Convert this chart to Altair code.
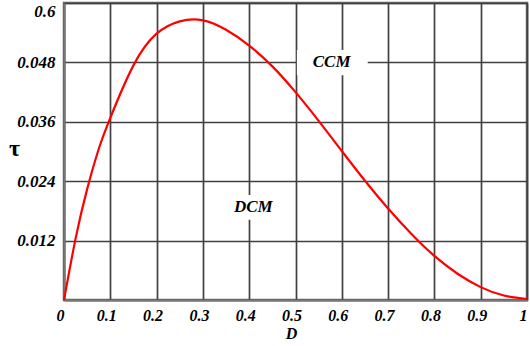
import altair as alt
import pandas as pd

# Curve
D_vals = [0, 0.025, 0.05, 0.075, 0.1, 0.15, 0.2, 0.25, 0.3, 0.35, 0.4, 0.45, 0.5,
          0.55, 0.6, 0.65, 0.7, 0.75, 0.8, 0.85, 0.9, 0.95, 1.0]
tau_vals = [0, 0.0124, 0.0224, 0.0305, 0.0368, 0.0474, 0.0538, 0.0563, 0.0565, 0.0546, 0.0514,
            0.0472, 0.0420, 0.0362, 0.0301, 0.0241, 0.0185, 0.0134, 0.0089, 0.0053, 0.0026,
            0.0009, 0.0002]

x_ticks = [0, 0.1, 0.2, 0.3, 0.4, 0.5, 0.6, 0.7, 0.8, 0.9, 1.0]
x_labels = ["0", "0.1", "0.2", "0.3", "0.4", "0.5", "0.6", "0.7", "0.8", "0.9", "1"]
y_ticks = [0, 0.012, 0.024, 0.036, 0.048, 0.06]
y_labels = ["", "0.012", "0.024", "0.036", "0.048", "0.6"]

# Region annotations
ann_text = ["CCM", "DCM"]
ann_D = [0.578, 0.409]
ann_tau = [0.048, 0.0187]
ann_box_D1 = [0.503, 0.335]
ann_box_D2 = [0.656, 0.485]
ann_box_t1 = [0.0454, 0.0162]
ann_box_t2 = [0.0505, 0.0212]

FONT = "Liberation Serif"


def label_expr(ticks, labels):
    expr = "''"
    for v, l in reversed(list(zip(ticks, labels))):
        expr = f"abs(datum.value - {v}) < 1e-6 ? '{l}' : ({expr})"
    return expr


curve = pd.DataFrame({"D": D_vals, "tau": tau_vals})
ann = pd.DataFrame({"text": ann_text, "D": ann_D, "tau": ann_tau,
                    "bx1": ann_box_D1, "bx2": ann_box_D2,
                    "by1": ann_box_t1, "by2": ann_box_t2})

x_scale = alt.Scale(domain=[0, 1], nice=False, zero=False)
y_scale = alt.Scale(domain=[0, 0.06], nice=False, zero=False)

x_axis = alt.Axis(values=x_ticks, labelExpr=label_expr(x_ticks, x_labels),
                  grid=True, gridColor="#404040", gridWidth=1.7,
                  domain=True, domainColor="#777777", domainWidth=2,
                  ticks=False, labelFont=FONT, labelFontSize=16, labelFontWeight="bold",
                  labelFontStyle="italic", labelColor="black", labelPadding=7, labelOffset=-4,
                  labelFlush=False,
                  title="D", titleFont=FONT, titleFontSize=16, titleFontWeight="bold",
                  titleFontStyle="italic", titleColor="black", titlePadding=2, titleX=227)
y_axis = alt.Axis(values=y_ticks, labelExpr=label_expr(y_ticks, y_labels),
                  grid=True, gridColor="#404040", gridWidth=1.7,
                  domain=True, domainColor="#777777", domainWidth=2,
                  ticks=False, labelFont=FONT, labelFontSize=17, labelFontWeight="bold",
                  labelFontStyle="italic", labelColor="black", labelPadding=9,
                  labelFlush=True, labelFlushOffset=0,
                  title="τ", titleFont=FONT, titleFontSize=24, titleFontWeight="bold",
                  titleColor="black", titleAngle=0, titleAlign="center", titleBaseline="middle",
                  titleX=-50, titleY=145)

line = alt.Chart(curve).mark_line(color="#ff0000", strokeWidth=2.2, interpolate="natural").encode(
    x=alt.X("D:Q", scale=x_scale, axis=x_axis),
    y=alt.Y("tau:Q", scale=y_scale, axis=y_axis),
)

boxes = alt.Chart(ann).mark_rect(color="white").encode(
    x=alt.X("bx1:Q", scale=x_scale), x2="bx2:Q",
    y=alt.Y("by1:Q", scale=y_scale), y2="by2:Q",
)

labels = alt.Chart(ann).mark_text(font=FONT, fontSize=17, fontWeight="bold", fontStyle="italic",
                                  color="black", align="center", baseline="middle").encode(
    x=alt.X("D:Q", scale=x_scale), y=alt.Y("tau:Q", scale=y_scale), text="text:N",
)

chart = alt.layer(boxes, line, labels).properties(
    width=463, height=297,
    autosize=alt.AutoSizeParams(type="none"),
    padding={"left": 64, "top": 3, "right": 3, "bottom": 46},
    background="white",
).configure_view(stroke="#666666", strokeWidth=2.5)

chart.save("out.html", embed_options={"renderer": "svg", "actions": False})
